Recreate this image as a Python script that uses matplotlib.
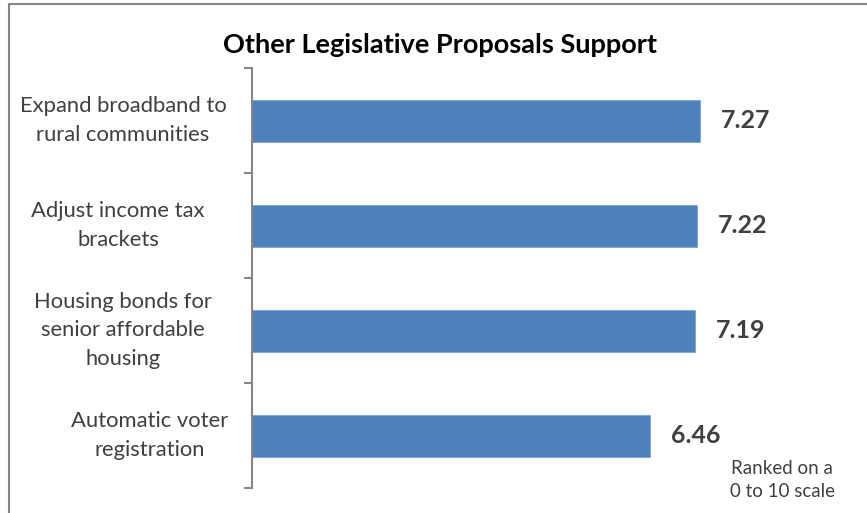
import numpy as np
import matplotlib
matplotlib.use('Agg')
import matplotlib.pyplot as plt
from matplotlib.patches import Rectangle
import matplotlib.transforms as mtransforms

plt.rcParams['font.family'] = ['Lato', 'DejaVu Sans']

# proposals, top to bottom
proposals = ['Expand broadband to\nrural communities',
             'Adjust income tax\nbrackets',
             'Housing bonds for\nsenior affordable\nhousing',
             'Automatic voter\nregistration']
scores = [7.27, 7.22, 7.19, 6.46]
score_labels = ['7.27', '7.22', '7.19', '6.46']

bar_color = '#4F81BD'
text_color = '#404040'

fig = plt.figure(figsize=(8.67, 5.13), dpi=100)
ax = fig.add_axes([252/867, 1 - 488/513, 616/867, 420/513])

y = np.arange(len(proposals))
ax.barh(y, scores, height=0.4, color=bar_color, edgecolor='#7FA3D3', linewidth=0.6)
ax.set_xlim(0, 10)
ax.set_ylim(len(proposals) - 0.5, -0.5)

# value labels next to each bar
for yi, v, s in zip(y, scores, score_labels):
    ax.annotate(s, (v, yi), xytext=(15, 0), textcoords='offset points',
                ha='left', va='center', fontsize=18, fontweight='bold',
                color=text_color)

# category labels, centred in the space left of the axis
label_offsets = [-129, -134, -129, -102]
for yi, lab, off in zip(y, proposals, label_offsets):
    tr = mtransforms.offset_copy(ax.get_yaxis_transform(), fig=fig,
                                 x=off * 0.72, units='points')
    ax.text(0, yi, lab, transform=tr, ha='center', va='center',
            multialignment='center', fontsize=15.8, color=text_color,
            linespacing=1.55)

# axis styling: only left spine with ticks between categories
for side in ['top', 'right', 'bottom']:
    ax.spines[side].set_visible(False)
ax.spines['left'].set_color('#868686')
ax.spines['left'].set_linewidth(1.5)
ax.set_xticks([])
ax.set_yticks(np.arange(-0.5, len(proposals), 1.0))
ax.set_yticklabels([])
ax.tick_params(axis='y', length=6, width=1.5, color='#868686', direction='out')

fig.text(440/867, 1 - 45/513, 'Other Legislative Proposals Support',
         ha='center', va='center', fontsize=19.5, fontweight='bold',
         color='black')
fig.text(782/867, 1 - 480/513, 'Ranked on a\n0 to 10 scale', ha='center',
         va='center', fontsize=13.5, color=text_color, linespacing=1.4)

# chart frame
fig.patches.append(Rectangle((8.5/867, -0.1), 1.1, 1 - 4.5/513 + 0.1,
                             transform=fig.transFigure, fill=False,
                             edgecolor='#868686', linewidth=1.5))

fig.savefig('out.png', dpi=100)
